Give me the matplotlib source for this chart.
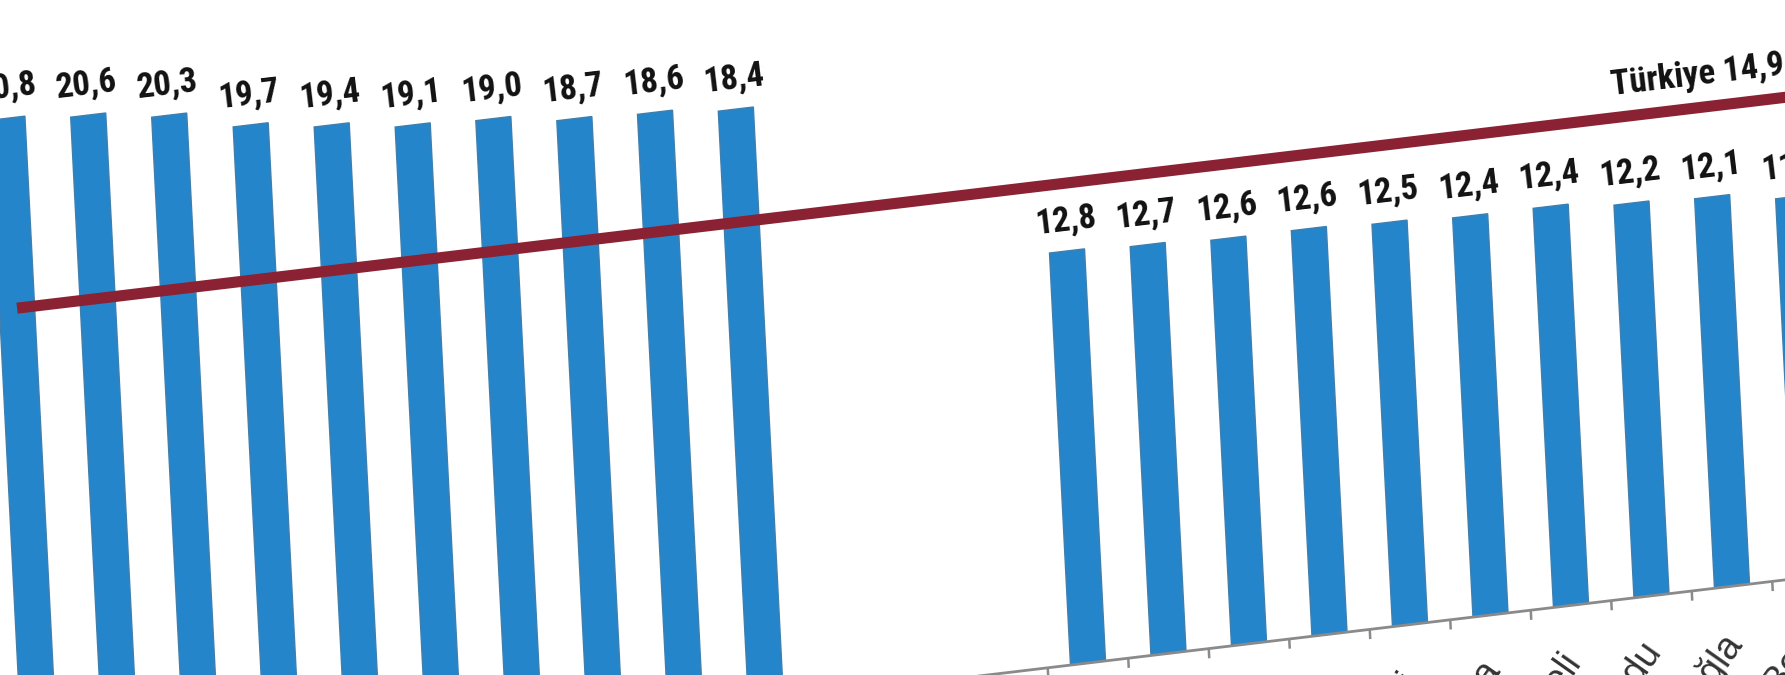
import numpy as np
import matplotlib
matplotlib.use("Agg")
import matplotlib.pyplot as plt
from matplotlib import transforms as mtransforms
from matplotlib import font_manager

# il adları (sadece sağ uçtakilerin sonu görünüyor), boşluk = grafikte boş kalan yer
iller = ["", "", "", "", "", "", "", "", "", "",
         "", "", "",
         "", "", "", "", "Denizli", "Yalova", "Kocaeli", "Ordu", "Muğla", "Bolu"]
oranlar = [20.8, 20.6, 20.3, 19.7, 19.4, 19.1, 19.0, 18.7, 18.6, 18.4,
           np.nan, np.nan, np.nan,
           12.8, 12.7, 12.6, 12.6, 12.5, 12.4, 12.4, 12.2, 12.1, 11.8]
turkiye = 14.9
turkiye_etiket = "Türkiye 14,9"


def dar_font():
    # dar (narrow/condensed) bir font ara, yoksa normal Liberation Sans
    for ad in ["Liberation Sans Narrow", "Roboto Condensed", "Open Sans Condensed",
               "Noto Sans Condensed", "DejaVu Sans"]:
        try:
            fp = font_manager.FontProperties(family=ad, weight="bold", stretch="condensed")
            yol = font_manager.findfont(fp, fallback_to_default=False)
        except ValueError:
            continue
        if "Narrow" in yol or "Condensed" in yol or "condensed" in yol.lower():
            return ad, "condensed", 25
    return "Liberation Sans", "normal", 21


aile_adi, genislik, boyut = dar_font()
aile = [aile_adi, "DejaVu Sans"]

fig = plt.figure(figsize=(17.85, 6.75), dpi=100)
fig.patch.set_facecolor("white")
ax = fig.add_axes([0, 0, 1, 1])
ax.set_xlim(0, 1785)
ax.set_ylim(675, 0)
ax.axis("off")

# fotoğraftaki eğiklik: (kategori, değer) -> piksel
egik = mtransforms.Affine2D().from_values(80.5, -9.6, -1.64, -32.19, 41.5, 787.8)
tr = egik + ax.transData
aci = 6.8

x = np.arange(len(oranlar))
y = np.array(oranlar)
dolu = ~np.isnan(y)

ax.bar(x[dolu], y[dolu], width=0.435, color="#2585cb", edgecolor="#3f7fae",
       linewidth=1, transform=tr, zorder=2)

# değer etiketleri
for xi, yi in zip(x[dolu], y[dolu]):
    ax.text(xi, yi + 0.95, f"{yi:.1f}".replace(".", ","), transform=tr,
            rotation=aci, rotation_mode="anchor", ha="center", va="center",
            fontsize=boyut, fontweight="bold", fontstretch=genislik, family=aile,
            color="#111111", zorder=4)

# Türkiye ortalaması çizgisi
ax.plot(np.arange(len(oranlar) + 1), [turkiye] * (len(oranlar) + 1), transform=tr,
        color="#8a2233", linewidth=8, solid_capstyle="butt", zorder=3)
ax.text(20.9, 15.9, turkiye_etiket, transform=tr, rotation=aci, rotation_mode="anchor",
        ha="center", va="center", fontsize=boyut, fontweight="bold",
        fontstretch=genislik, family=aile, color="#111111", zorder=4)

# x ekseni ve çentikler
ax.plot([-0.5, len(oranlar) + 0.5], [0, 0], transform=tr, color="#8a8a8a",
        linewidth=2, zorder=2)
ax.vlines(np.arange(len(oranlar) + 1) - 0.5, -0.3, 0, transform=tr,
          color="#8a8a8a", linewidth=1.8, zorder=2)
for xi, ad in zip(x, iller):
    if ad:
        ax.text(xi, -1.55, ad, transform=tr, rotation=48 + aci, rotation_mode="anchor",
                ha="right", va="center", fontsize=27, family=["Liberation Sans", "DejaVu Sans"],
                color="#333333")

ax.set_xlim(0, 1785)
ax.set_ylim(675, 0)
fig.savefig("out.png", dpi=100, facecolor="white")
